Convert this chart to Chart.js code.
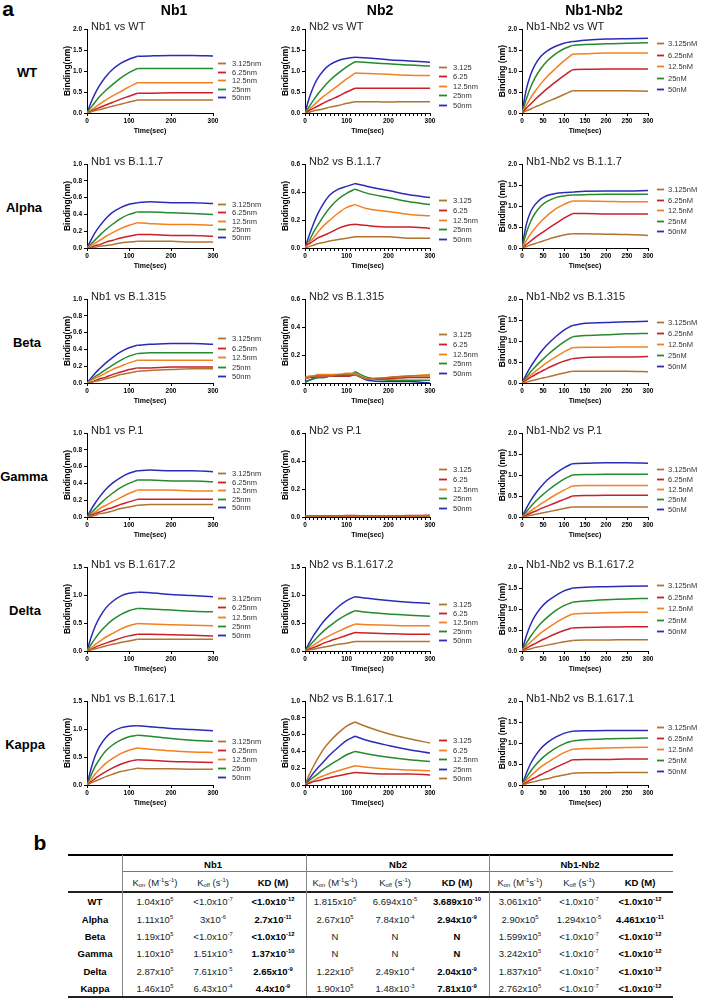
<!DOCTYPE html>
<html>
<head>
<meta charset="utf-8">
<script src="https://cdn.jsdelivr.net/npm/chart.js@4.4.1/dist/chart.umd.min.js"></script>
<style>
  html, body { margin: 0; padding: 0; background: #fff; }
  body { width: 708px; height: 998px; position: relative; overflow: hidden;
         font-family: "Liberation Sans", Arial, sans-serif; color: #000; }
  canvas { position: absolute; }
  .c { position: absolute; transform: translate(-50%, -50%); white-space: nowrap; }
  .letter { font-weight: bold; font-size: 21px; }
  .colhead { font-weight: bold; font-size: 14px; }
  .rowhead { font-weight: bold; font-size: 13px; }
  .tc { font-size: 9.5px; color: #222; }
  .tb { font-weight: bold; color: #000; }
  .line { position: absolute; }
  sup { font-size: 0.62em; vertical-align: 0.55em; line-height: 0; }
  sub { font-size: 0.62em; vertical-align: -0.2em; line-height: 0; }
</style>
</head>
<body>
<script>
/* ---------- data ---------- */
const TIME = [0, 10, 20, 30, 45, 60, 80, 100, 120, 150, 200, 250, 300];
const SWITCH_IDX = 8; // association ends at t = 120 s

const LABELS_NB1 = ['3.125nm', '6.25nm', '12.5nm', '25nm', '50nm'];
const LABELS_NB2 = ['3.125', '6.25', '12.5nm', '25nm', '50nm'];
const LABELS_NB12 = ['3.125nM', '6.25nM', '12.5nM', '25nM', '50nM'];

// series order: 3.125, 6.25, 12.5, 25, 50
const nb1WT = [
  [0, 0.03, 0.06, 0.08, 0.12, 0.16, 0.21, 0.26, 0.31, 0.31, 0.31, 0.31, 0.31],
  [0, 0.04, 0.09, 0.13, 0.19, 0.25, 0.33, 0.40, 0.47, 0.47, 0.48, 0.48, 0.48],
  [0, 0.07, 0.14, 0.21, 0.31, 0.40, 0.51, 0.62, 0.72, 0.72, 0.72, 0.72, 0.72],
  [0, 0.14, 0.27, 0.39, 0.54, 0.67, 0.83, 0.96, 1.06, 1.06, 1.06, 1.06, 1.06],
  [0, 0.26, 0.48, 0.66, 0.87, 1.03, 1.18, 1.28, 1.35, 1.36, 1.37, 1.37, 1.36]
];
const nb2WT = [
  [0, 0.02, 0.05, 0.07, 0.10, 0.14, 0.18, 0.23, 0.27, 0.27, 0.26, 0.27, 0.27],
  [0, 0.06, 0.11, 0.16, 0.24, 0.31, 0.40, 0.50, 0.59, 0.59, 0.59, 0.59, 0.59],
  [0, 0.09, 0.18, 0.27, 0.40, 0.51, 0.66, 0.81, 0.95, 0.94, 0.92, 0.90, 0.89],
  [0, 0.15, 0.30, 0.44, 0.62, 0.78, 0.95, 1.10, 1.22, 1.20, 1.17, 1.14, 1.12],
  [0, 0.35, 0.62, 0.82, 1.02, 1.15, 1.25, 1.30, 1.33, 1.31, 1.27, 1.24, 1.21]
];
const nb12WT = [
  [0, 0.05, 0.09, 0.14, 0.20, 0.27, 0.35, 0.44, 0.53, 0.53, 0.53, 0.53, 0.52],
  [0, 0.11, 0.21, 0.31, 0.45, 0.58, 0.74, 0.89, 1.03, 1.04, 1.05, 1.05, 1.05],
  [0, 0.18, 0.35, 0.50, 0.70, 0.87, 1.06, 1.24, 1.40, 1.41, 1.43, 1.43, 1.43],
  [0, 0.32, 0.60, 0.82, 1.06, 1.24, 1.41, 1.53, 1.61, 1.63, 1.65, 1.66, 1.67],
  [0, 0.55, 0.90, 1.13, 1.35, 1.48, 1.59, 1.66, 1.70, 1.73, 1.76, 1.77, 1.78]
];

const nb1Alpha = [
  [0, 0.00, 0.01, 0.02, 0.03, 0.04, 0.06, 0.07, 0.08, 0.08, 0.08, 0.07, 0.07],
  [0, 0.01, 0.03, 0.04, 0.07, 0.09, 0.12, 0.14, 0.16, 0.16, 0.15, 0.15, 0.14],
  [0, 0.03, 0.06, 0.09, 0.14, 0.18, 0.23, 0.27, 0.30, 0.29, 0.28, 0.28, 0.27],
  [0, 0.05, 0.10, 0.15, 0.22, 0.28, 0.35, 0.40, 0.43, 0.43, 0.42, 0.41, 0.40],
  [0, 0.10, 0.19, 0.26, 0.35, 0.42, 0.48, 0.52, 0.54, 0.55, 0.54, 0.54, 0.53]
];
const nb2Alpha = [
  [0, 0.01, 0.02, 0.03, 0.04, 0.05, 0.06, 0.07, 0.08, 0.08, 0.08, 0.07, 0.07],
  [0.02, 0.03, 0.05, 0.07, 0.09, 0.11, 0.14, 0.16, 0.17, 0.16, 0.15, 0.15, 0.14],
  [0, 0.04, 0.07, 0.11, 0.16, 0.20, 0.25, 0.29, 0.31, 0.28, 0.26, 0.24, 0.23],
  [0, 0.05, 0.11, 0.16, 0.23, 0.29, 0.35, 0.39, 0.42, 0.39, 0.36, 0.33, 0.31],
  [0, 0.09, 0.17, 0.24, 0.32, 0.38, 0.42, 0.44, 0.46, 0.44, 0.41, 0.38, 0.36]
];
const nb12Alpha = [
  [0, 0.03, 0.07, 0.10, 0.15, 0.20, 0.26, 0.31, 0.34, 0.34, 0.33, 0.32, 0.30],
  [0, 0.08, 0.16, 0.24, 0.35, 0.45, 0.58, 0.71, 0.82, 0.82, 0.81, 0.81, 0.81],
  [0, 0.17, 0.33, 0.46, 0.63, 0.77, 0.93, 1.04, 1.12, 1.12, 1.11, 1.10, 1.10],
  [0, 0.35, 0.62, 0.81, 1.00, 1.11, 1.20, 1.24, 1.26, 1.27, 1.28, 1.28, 1.28],
  [0, 0.55, 0.85, 1.02, 1.17, 1.25, 1.30, 1.32, 1.33, 1.35, 1.36, 1.36, 1.37]
];

const nb1Beta = [
  [0, 0.01, 0.02, 0.03, 0.05, 0.07, 0.10, 0.12, 0.14, 0.15, 0.16, 0.17, 0.17],
  [0, 0.01, 0.03, 0.05, 0.07, 0.10, 0.13, 0.16, 0.18, 0.18, 0.19, 0.19, 0.19],
  [0, 0.03, 0.06, 0.08, 0.12, 0.16, 0.20, 0.24, 0.27, 0.27, 0.27, 0.27, 0.27],
  [0, 0.04, 0.08, 0.11, 0.16, 0.21, 0.27, 0.32, 0.35, 0.36, 0.36, 0.36, 0.36],
  [0, 0.06, 0.12, 0.17, 0.24, 0.30, 0.37, 0.42, 0.45, 0.46, 0.47, 0.47, 0.46]
];
const nb2Beta = [
  [0.03, 0.04, 0.05, 0.05, 0.05, 0.05, 0.06, 0.06, 0.06, 0.03, 0.04, 0.05, 0.05],
  [0.03, 0.04, 0.04, 0.05, 0.05, 0.05, 0.05, 0.05, 0.06, 0.03, 0.03, 0.04, 0.04],
  [0.04, 0.05, 0.05, 0.06, 0.06, 0.06, 0.06, 0.07, 0.07, 0.03, 0.04, 0.05, 0.06],
  [0.00, 0.02, 0.03, 0.04, 0.04, 0.05, 0.05, 0.05, 0.08, 0.04, 0.02, 0.02, 0.02],
  [0.01, 0.02, 0.03, 0.04, 0.04, 0.05, 0.05, 0.05, 0.06, 0.02, 0.01, 0.01, 0.00]
];
const nb12Beta = [
  [0, 0.02, 0.05, 0.07, 0.11, 0.14, 0.19, 0.24, 0.28, 0.28, 0.28, 0.28, 0.27],
  [0, 0.07, 0.13, 0.19, 0.27, 0.35, 0.44, 0.52, 0.58, 0.61, 0.62, 0.62, 0.63],
  [0, 0.09, 0.18, 0.26, 0.38, 0.49, 0.62, 0.74, 0.84, 0.85, 0.85, 0.86, 0.86],
  [0, 0.13, 0.26, 0.37, 0.52, 0.66, 0.83, 0.98, 1.10, 1.13, 1.15, 1.17, 1.18],
  [0, 0.20, 0.38, 0.53, 0.74, 0.91, 1.10, 1.26, 1.37, 1.42, 1.44, 1.46, 1.47]
];

const nb1Gamma = [
  [0, 0.01, 0.02, 0.04, 0.05, 0.07, 0.10, 0.12, 0.14, 0.15, 0.15, 0.15, 0.15],
  [0, 0.02, 0.04, 0.06, 0.09, 0.11, 0.15, 0.18, 0.21, 0.21, 0.21, 0.21, 0.21],
  [0, 0.03, 0.06, 0.10, 0.14, 0.18, 0.23, 0.28, 0.32, 0.32, 0.32, 0.31, 0.31],
  [0, 0.05, 0.10, 0.15, 0.22, 0.28, 0.35, 0.40, 0.44, 0.44, 0.43, 0.43, 0.42],
  [0, 0.09, 0.17, 0.24, 0.33, 0.40, 0.47, 0.52, 0.55, 0.56, 0.55, 0.55, 0.54]
];
const nb2Gamma = [
  [0.004, 0.005, 0.006, 0.006, 0.007, 0.006, 0.007, 0.008, 0.008, 0.006, 0.007, 0.008, 0.010],
  [0.006, 0.007, 0.008, 0.008, 0.008, 0.009, 0.009, 0.010, 0.010, 0.007, 0.008, 0.010, 0.012],
  [0.003, 0.004, 0.005, 0.005, 0.006, 0.006, 0.006, 0.007, 0.007, 0.005, 0.006, 0.007, 0.009],
  [0.002, 0.003, 0.004, 0.004, 0.004, 0.005, 0.005, 0.005, 0.006, 0.004, 0.004, 0.005, 0.006],
  [0.001, 0.002, 0.003, 0.003, 0.003, 0.004, 0.004, 0.004, 0.005, 0.003, 0.003, 0.004, 0.004]
];
const nb12Gamma = [
  [0, 0.02, 0.04, 0.06, 0.09, 0.12, 0.16, 0.20, 0.24, 0.24, 0.24, 0.24, 0.24],
  [0, 0.04, 0.09, 0.13, 0.20, 0.26, 0.34, 0.42, 0.50, 0.51, 0.52, 0.52, 0.52],
  [0, 0.07, 0.14, 0.21, 0.31, 0.41, 0.53, 0.64, 0.74, 0.75, 0.75, 0.75, 0.75],
  [0, 0.12, 0.24, 0.35, 0.49, 0.62, 0.77, 0.90, 1.00, 1.01, 1.02, 1.02, 1.02],
  [0, 0.20, 0.38, 0.53, 0.72, 0.88, 1.04, 1.17, 1.27, 1.28, 1.29, 1.29, 1.28]
];

const nb1Delta = [
  [0, 0.02, 0.04, 0.06, 0.09, 0.12, 0.15, 0.18, 0.21, 0.21, 0.21, 0.21, 0.21],
  [0, 0.03, 0.07, 0.10, 0.14, 0.18, 0.23, 0.27, 0.30, 0.30, 0.29, 0.28, 0.27],
  [0, 0.06, 0.12, 0.17, 0.25, 0.31, 0.39, 0.45, 0.49, 0.48, 0.47, 0.46, 0.45],
  [0, 0.12, 0.23, 0.33, 0.45, 0.55, 0.65, 0.72, 0.76, 0.75, 0.73, 0.71, 0.70],
  [0, 0.25, 0.45, 0.60, 0.77, 0.88, 0.98, 1.03, 1.05, 1.04, 1.01, 0.99, 0.97]
];
const nb2Delta = [
  [0, 0.02, 0.03, 0.05, 0.07, 0.09, 0.12, 0.14, 0.17, 0.17, 0.17, 0.17, 0.17],
  [0, 0.03, 0.06, 0.09, 0.14, 0.18, 0.23, 0.28, 0.33, 0.32, 0.31, 0.30, 0.30],
  [0, 0.05, 0.10, 0.15, 0.22, 0.28, 0.35, 0.42, 0.48, 0.47, 0.46, 0.45, 0.45],
  [0, 0.09, 0.17, 0.25, 0.36, 0.45, 0.56, 0.65, 0.72, 0.69, 0.66, 0.64, 0.62],
  [0, 0.14, 0.27, 0.38, 0.53, 0.65, 0.79, 0.90, 0.97, 0.94, 0.90, 0.87, 0.85]
];
const nb12Delta = [
  [0, 0.03, 0.05, 0.08, 0.11, 0.14, 0.18, 0.22, 0.25, 0.26, 0.26, 0.27, 0.27],
  [0, 0.06, 0.12, 0.17, 0.25, 0.32, 0.41, 0.49, 0.55, 0.56, 0.57, 0.58, 0.58],
  [0, 0.11, 0.21, 0.30, 0.43, 0.54, 0.67, 0.79, 0.88, 0.90, 0.91, 0.92, 0.92],
  [0, 0.18, 0.34, 0.48, 0.66, 0.80, 0.96, 1.08, 1.16, 1.19, 1.22, 1.24, 1.25],
  [0, 0.35, 0.62, 0.82, 1.03, 1.18, 1.32, 1.43, 1.50, 1.52, 1.53, 1.54, 1.55]
];

const nb1Kappa = [
  [0, 0.04, 0.07, 0.10, 0.15, 0.19, 0.24, 0.27, 0.30, 0.29, 0.29, 0.28, 0.28],
  [0, 0.06, 0.12, 0.17, 0.24, 0.30, 0.37, 0.42, 0.45, 0.44, 0.42, 0.41, 0.40],
  [0, 0.10, 0.20, 0.28, 0.39, 0.47, 0.56, 0.62, 0.66, 0.64, 0.61, 0.59, 0.58],
  [0, 0.18, 0.34, 0.46, 0.61, 0.71, 0.80, 0.86, 0.89, 0.87, 0.83, 0.80, 0.78],
  [0, 0.30, 0.53, 0.69, 0.85, 0.95, 1.02, 1.05, 1.06, 1.04, 1.01, 0.99, 0.97]
];
const nb2Kappa = [
  [0, 0.02, 0.04, 0.05, 0.07, 0.09, 0.11, 0.13, 0.15, 0.14, 0.13, 0.13, 0.12],
  [0, 0.03, 0.05, 0.08, 0.11, 0.14, 0.17, 0.20, 0.23, 0.21, 0.19, 0.18, 0.17],
  [0, 0.05, 0.09, 0.13, 0.19, 0.24, 0.30, 0.36, 0.40, 0.37, 0.33, 0.30, 0.28],
  [0, 0.07, 0.14, 0.20, 0.28, 0.36, 0.45, 0.53, 0.58, 0.53, 0.47, 0.42, 0.38],
  [0, 0.12, 0.22, 0.31, 0.43, 0.52, 0.62, 0.70, 0.75, 0.69, 0.61, 0.55, 0.50]
];
const nb12Kappa = [
  [0, 0.03, 0.06, 0.08, 0.12, 0.15, 0.20, 0.24, 0.28, 0.29, 0.29, 0.30, 0.30],
  [0, 0.06, 0.12, 0.17, 0.25, 0.32, 0.42, 0.51, 0.60, 0.61, 0.61, 0.62, 0.62],
  [0, 0.11, 0.21, 0.30, 0.43, 0.53, 0.66, 0.77, 0.85, 0.87, 0.88, 0.89, 0.90],
  [0, 0.17, 0.32, 0.45, 0.61, 0.74, 0.88, 0.98, 1.05, 1.08, 1.10, 1.11, 1.12],
  [0, 0.27, 0.50, 0.67, 0.87, 1.01, 1.14, 1.23, 1.28, 1.29, 1.30, 1.30, 1.30]
];

/* table b */
const VARIANTS = ['WT', 'Alpha', 'Beta', 'Gamma', 'Delta', 'Kappa'];
const GROUPS = ['Nb1', 'Nb2', 'Nb1-Nb2'];
const SUBHEADS = ['K<sub>on</sub> (M<sup>-1</sup>s<sup>-1</sup>)', 'K<sub>off</sub> (s<sup>-1</sup>)', 'KD (M)'];
const KIN_NB1 = [
  ['1.04x10^5', '<1.0x10^-7', '<1.0x10^-12'],
  ['1.11x10^5', '3x10^-6', '2.7x10^-11'],
  ['1.19x10^5', '<1.0x10^-7', '<1.0x10^-12'],
  ['1.10x10^5', '1.51x10^-5', '1.37x10^-10'],
  ['2.87x10^5', '7.61x10^-5', '2.65x10^-9'],
  ['1.46x10^5', '6.43x10^-4', '4.4x10^-9']
];
const KIN_NB2 = [
  ['1.815x10^5', '6.694x10^-5', '3.689x10^-10'],
  ['2.67x10^5', '7.84x10^-4', '2.94x10^-9'],
  ['N', 'N', 'N'],
  ['N', 'N', 'N'],
  ['1.22x10^5', '2.49x10^-4', '2.04x10^-9'],
  ['1.90x10^5', '1.48x10^-3', '7.81x10^-9']
];
const KIN_NB12 = [
  ['3.061x10^5', '<1.0x10^-7', '<1.0x10^-12'],
  ['2.90x10^5', '1.294x10^-5', '4.461x10^-11'],
  ['1.599x10^5', '<1.0x10^-7', '<1.0x10^-12'],
  ['3.242x10^5', '<1.0x10^-7', '<1.0x10^-12'],
  ['1.837x10^5', '<1.0x10^-7', '<1.0x10^-12'],
  ['2.762x10^5', '<1.0x10^-7', '<1.0x10^-12']
];

/* ---------- layout ---------- */
const COLORS = ['#b2732f', '#cc1f2a', '#f3801f', '#25892e', '#2b2bb8'];
const COLORS_SHIFT = ['#cc1f2a', '#f3801f', '#25892e', '#2b2bb8', '#b2732f'];
const ROW_TOP = [29, 164, 299, 433, 567, 701];
const PLOT_H = 84;
const YW = 28, TOPPAD = 16, XH = 26;
const COLS = [
  { axis: 87, w: 126, pad: 50, labels: LABELS_NB1, yTitle: 'Binding(nm)', xStep: 100, minor: false, lx: [5, 13, 19] },
  { axis: 305, w: 125, pad: 56, labels: LABELS_NB2, yTitle: 'Binding(nm)', xStep: 100, minor: true, lx: [9, 17, 23] },
  { axis: 522, w: 126, pad: 58, labels: LABELS_NB12, yTitle: 'Binding (nm)', xStep: 50, minor: false, lx: [9, 16, 20] }
];

const PANELS = [
  { r: 0, c: 0, title: 'Nb1 vs WT', d: nb1WT, yMax: 2, step: 0.5, leg: [34, 8.6] },
  { r: 0, c: 1, title: 'Nb2 vs WT', d: nb2WT, yMax: 2, step: 0.5, leg: [38, 9.4] },
  { r: 0, c: 2, title: 'Nb1-Nb2 vs WT', d: nb12WT, yMax: 2, step: 0.5, leg: [14, 11.5] },
  { r: 1, c: 0, title: 'Nb1 vs B.1.1.7', d: nb1Alpha, yMax: 1, step: 0.2, leg: [40, 8.3] },
  { r: 1, c: 1, title: 'Nb2 vs B.1.1.7', d: nb2Alpha, yMax: 0.6, step: 0.2, leg: [36, 9.8] },
  { r: 1, c: 2, title: 'Nb1-Nb2 vs B.1.1.7', d: nb12Alpha, yMax: 2, step: 0.5, leg: [25, 10.6] },
  { r: 2, c: 0, title: 'Nb1 vs B.1.315', d: nb1Beta, yMax: 1, step: 0.2, leg: [39, 9.6] },
  { r: 2, c: 1, title: 'Nb2 vs B.1.315', d: nb2Beta, yMax: 0.6, step: 0.2, leg: [35, 9.8] },
  { r: 2, c: 2, title: 'Nb1-Nb2 vs B.1.315', d: nb12Beta, yMax: 2, step: 0.5, leg: [23, 11] },
  { r: 3, c: 0, title: 'Nb1 vs P.1', d: nb1Gamma, yMax: 1, step: 0.2, leg: [40, 8.5] },
  { r: 3, c: 1, title: 'Nb2 vs P.1', d: nb2Gamma, yMax: 0.6, step: 0.2, leg: [36, 9.8] },
  { r: 3, c: 2, title: 'Nb1-Nb2 vs P.1', d: nb12Gamma, yMax: 2, step: 0.5, leg: [36, 10] },
  { r: 4, c: 0, title: 'Nb1 vs B.1.617.2', d: nb1Delta, yMax: 1.5, step: 0.5, leg: [31, 9.3] },
  { r: 4, c: 1, title: 'Nb2 vs B.1.617.2', d: nb2Delta, yMax: 1.5, step: 0.5, leg: [37, 9] },
  { r: 4, c: 2, title: 'Nb1-Nb2 vs B.1.617.2', d: nb12Delta, yMax: 2, step: 0.5, leg: [18, 11.5] },
  { r: 5, c: 0, title: 'Nb1 vs B.1.617.1', d: nb1Kappa, yMax: 1.5, step: 0.5, leg: [40, 9] },
  { r: 5, c: 1, title: 'Nb2 vs B.1.617.1', d: nb2Kappa, yMax: 1, step: 0.2, leg: [39, 9.6], colors: COLORS_SHIFT },
  { r: 5, c: 2, title: 'Nb1-Nb2 vs B.1.617.1', d: nb12Kappa, yMax: 2, step: 0.5, leg: [26, 11] }
];

const FONT = '"Liberation Sans", Arial, sans-serif';

/* title drawn just inside the plot's top-left corner */
const panelTitle = {
  id: 'panelTitle',
  afterDraw(chart, args, o) {
    const { ctx, chartArea } = chart;
    ctx.save();
    ctx.font = `11px ${FONT}`;
    ctx.fillStyle = '#1a1a1a';
    ctx.textBaseline = 'alphabetic';
    ctx.fillText(o.text, chartArea.left + 4, chartArea.top + 1);
    ctx.restore();
  }
};

/* legend drawn to the right of the plot (one entry per concentration) */
const sideLegend = {
  id: 'sideLegend',
  afterDraw(chart, args, o) {
    const { ctx, chartArea } = chart;
    ctx.save();
    ctx.font = `7.5px ${FONT}`;
    ctx.textBaseline = 'middle';
    chart.data.datasets.filter((ds) => ds.label).forEach((ds, i) => {
      const y = Math.round(chartArea.top + o.first + i * o.gap) + 0.5;
      ctx.strokeStyle = ds.borderColor;
      ctx.lineWidth = 1.8;
      ctx.beginPath();
      ctx.moveTo(chartArea.right + o.x0, y);
      ctx.lineTo(chartArea.right + o.x1, y);
      ctx.stroke();
      ctx.fillStyle = '#333';
      ctx.fillText(ds.label, chartArea.right + o.tx, y);
    });
    ctx.restore();
  }
};

Chart.defaults.font.family = FONT;
Chart.defaults.color = '#000';

function lineSet(label, pts, color) {
  return {
    label, data: pts, borderColor: color, borderWidth: 1.5,
    pointRadius: 0, fill: false, cubicInterpolationMode: 'monotone'
  };
}

PANELS.forEach((p) => {
  const col = COLS[p.c];
  const colors = p.colors || COLORS;
  const W = YW + col.w + col.pad, H = TOPPAD + PLOT_H + XH;
  const cv = document.createElement('canvas');
  cv.width = W; cv.height = H;
  cv.style.width = W + 'px'; cv.style.height = H + 'px';
  cv.style.left = (col.axis - YW) + 'px';
  cv.style.top = (ROW_TOP[p.r] - TOPPAD) + 'px';
  document.body.appendChild(cv);

  // each curve is drawn as association + dissociation so the switch at 120 s stays sharp
  const assoc = [], dissoc = [];
  p.d.forEach((vals, i) => {
    const pts = TIME.map((t, j) => ({ x: t, y: vals[j] }));
    assoc.push(lineSet(col.labels[i], pts.slice(0, SWITCH_IDX + 1), colors[i]));
    dissoc.push(lineSet('', pts.slice(SWITCH_IDX), colors[i]));
  });

  new Chart(cv, {
    type: 'line',
    data: { datasets: assoc.concat(dissoc) },
    options: {
      responsive: false,
      animation: false,
      devicePixelRatio: 1,
      events: [],
      layout: { padding: { top: TOPPAD, right: col.pad, left: 0, bottom: 0 } },
      plugins: {
        legend: { display: false },
        tooltip: { enabled: false },
        panelTitle: { text: p.title },
        sideLegend: { first: p.leg[0], gap: p.leg[1], x0: col.lx[0], x1: col.lx[1], tx: col.lx[2] }
      },
      scales: {
        x: {
          type: 'linear', min: 0, max: 300,
          afterFit: (s) => { s.height = XH; },
          ticks: {
            stepSize: col.minor ? 10 : col.xStep,
            autoSkip: false, maxRotation: 0, padding: 1,
            font: { size: 6.5, weight: 'bold' },
            callback: (v) => (v % col.xStep === 0 ? String(v) : '')
          },
          grid: { drawOnChartArea: false, drawTicks: true, tickLength: 3, color: '#000' },
          border: { color: '#000', width: 1 },
          title: { display: true, text: 'Time(sec)', font: { size: 7, weight: 'bold' }, padding: { top: 0, bottom: 4 } }
        },
        y: {
          min: 0, max: p.yMax,
          afterFit: (s) => { s.width = YW; },
          ticks: {
            stepSize: p.step, padding: 2,
            font: { size: 6.5, weight: 'bold' },
            callback: (v) => Number(v).toFixed(1)
          },
          grid: { drawOnChartArea: false, drawTicks: true, tickLength: 3, color: '#000' },
          border: { color: '#000', width: 1 },
          title: { display: true, text: col.yTitle, font: { size: 8.5, weight: 'bold' }, padding: { top: 4, bottom: 0 } }
        }
      }
    },
    plugins: [panelTitle, sideLegend]
  });
});

/* ---------- text labels ---------- */
function put(html, cls, x, y) {
  const d = document.createElement('div');
  d.className = 'c ' + cls;
  d.innerHTML = html;
  d.style.left = x + 'px';
  d.style.top = y + 'px';
  document.body.appendChild(d);
}
function hline(x, y, w, h, color) {
  const d = document.createElement('div');
  d.className = 'line';
  Object.assign(d.style, { left: x + 'px', top: y + 'px', width: w + 'px', height: h + 'px', background: color });
  document.body.appendChild(d);
}
const fmt = (s) => s.replace(/</g, '&lt;').replace(/\^(-?\d+)/, '<sup>$1</sup>');

put('a', 'letter', 8, 9);
put('b', 'letter', 40, 843);
put('Nb1', 'colhead', 174, 10);
put('Nb2', 'colhead', 380, 10);
put('Nb1-Nb2', 'colhead', 594, 10);
const ROW_LABEL_X = [27, 24, 27, 24, 25, 25];
VARIANTS.forEach((v, i) => put(v, 'rowhead', ROW_LABEL_X[i], ROW_TOP[i] + PLOT_H / 2 + 1));

/* ---------- table ---------- */
const T_LEFT = 68, T_RIGHT = 673;
const T_TOP = 855, T_BOTTOM = 996;
const GROUP_X = [213, 398, 580];
const CELL_X = [[155, 213, 273], [335, 395, 457], [520, 579, 640]];
const ROW_Y = [901, 918.5, 936, 953, 970.5, 988];
const SEP_X = [122, 306, 489];

hline(T_LEFT, T_TOP - 1, T_RIGHT - T_LEFT, 2, '#000');
hline(SEP_X[0], 871, T_RIGHT - SEP_X[0], 1, '#777');
hline(T_LEFT, 891, T_RIGHT - T_LEFT, 1.5, '#222');
hline(T_LEFT, T_BOTTOM, T_RIGHT - T_LEFT, 2, '#222');
SEP_X.forEach((x) => hline(x, T_TOP, 1, T_BOTTOM - T_TOP, '#888'));

GROUPS.forEach((g, gi) => {
  put(g, 'tc tb', GROUP_X[gi], 864);
  SUBHEADS.forEach((s, si) => put(s, 'tc' + (si === 2 ? ' tb' : ''), CELL_X[gi][si], 882));
});
const KIN = [KIN_NB1, KIN_NB2, KIN_NB12];
VARIANTS.forEach((v, ri) => {
  put(v, 'tc tb', 95, ROW_Y[ri]);
  KIN.forEach((tbl, gi) => {
    tbl[ri].forEach((val, ci) => put(fmt(val), 'tc' + (ci === 2 ? ' tb' : ''), CELL_X[gi][ci], ROW_Y[ri]));
  });
});
</script>
</body>
</html>
